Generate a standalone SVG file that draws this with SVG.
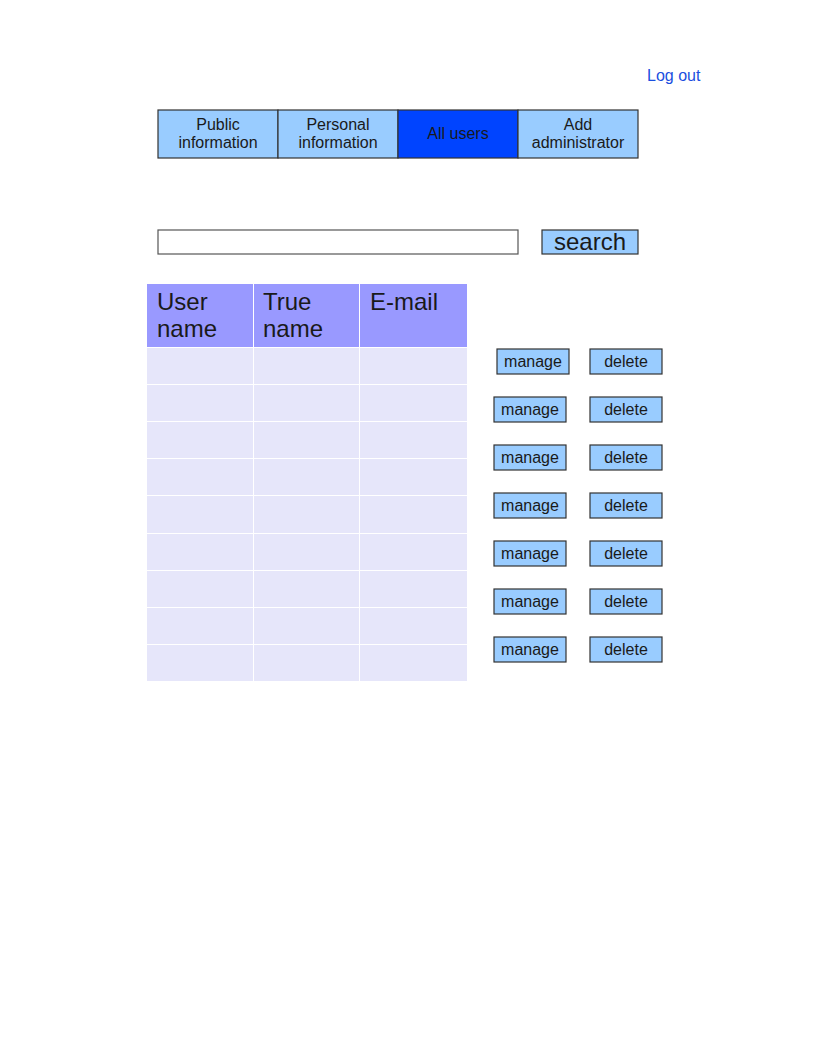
<svg xmlns="http://www.w3.org/2000/svg" width="816" height="1056" viewBox="0 0 816 1056">
<style>
text{font-family:"Liberation Sans",Arial,sans-serif;fill:#1a1a1a}
.tab{fill:#99ccff;stroke:#333;stroke-width:1.2}
.act{fill:#0044ff;stroke:#333;stroke-width:1.2}
.tt{font-size:16px;text-anchor:middle}
.btn{fill:#99ccff;stroke:#333;stroke-width:1.2}
.bt{font-size:16px;text-anchor:middle}
.hd{fill:#9999ff}
.cell{fill:#e6e6fa}
.ht{font-size:24px}
</style>
<rect width="816" height="1056" fill="#fff"/>
<g id="logout"><text x="647" y="81" style="font-size:16px;fill:#1a4fe0">Log out</text></g>
<g id="tab-public"><rect class="tab" x="158" y="110" width="120" height="48"/><text class="tt" x="218" y="130">Public</text><text class="tt" x="218" y="148">information</text></g>
<g id="tab-personal"><rect class="tab" x="278" y="110" width="120" height="48"/><text class="tt" x="338" y="130">Personal</text><text class="tt" x="338" y="148">information</text></g>
<g id="tab-all"><rect class="act" x="398" y="110" width="120" height="48"/><text class="tt" x="458" y="139">All users</text></g>
<g id="tab-add"><rect class="tab" x="518" y="110" width="120" height="48"/><text class="tt" x="578" y="130">Add</text><text class="tt" x="578" y="148">administrator</text></g>
<g id="search-input"><rect x="158" y="230" width="360" height="24" fill="#fff" stroke="#555" stroke-width="1.2"/></g>
<g id="search-btn"><rect class="btn" x="542" y="230" width="96" height="24"/><text x="590" y="250" style="font-size:24px;text-anchor:middle">search</text></g>
<g id="table">
<rect class="hd" x="147" y="284" width="106" height="63"/>
<rect class="hd" x="254" y="284" width="105" height="63"/>
<rect class="hd" x="360" y="284" width="107" height="63"/>
<text class="ht" x="157" y="310">User</text><text class="ht" x="157" y="337">name</text>
<text class="ht" x="263" y="310">True</text><text class="ht" x="263" y="337">name</text>
<text class="ht" x="370" y="310">E-mail</text>
<g id="rows">
<rect class="cell" x="147" y="348" width="106" height="36"/><rect class="cell" x="254" y="348" width="105" height="36"/><rect class="cell" x="360" y="348" width="107" height="36"/>
<rect class="cell" x="147" y="385" width="106" height="36"/><rect class="cell" x="254" y="385" width="105" height="36"/><rect class="cell" x="360" y="385" width="107" height="36"/>
<rect class="cell" x="147" y="422" width="106" height="36"/><rect class="cell" x="254" y="422" width="105" height="36"/><rect class="cell" x="360" y="422" width="107" height="36"/>
<rect class="cell" x="147" y="459" width="106" height="36"/><rect class="cell" x="254" y="459" width="105" height="36"/><rect class="cell" x="360" y="459" width="107" height="36"/>
<rect class="cell" x="147" y="496" width="106" height="37"/><rect class="cell" x="254" y="496" width="105" height="37"/><rect class="cell" x="360" y="496" width="107" height="37"/>
<rect class="cell" x="147" y="534" width="106" height="36"/><rect class="cell" x="254" y="534" width="105" height="36"/><rect class="cell" x="360" y="534" width="107" height="36"/>
<rect class="cell" x="147" y="571" width="106" height="36"/><rect class="cell" x="254" y="571" width="105" height="36"/><rect class="cell" x="360" y="571" width="107" height="36"/>
<rect class="cell" x="147" y="608" width="106" height="36"/><rect class="cell" x="254" y="608" width="105" height="36"/><rect class="cell" x="360" y="608" width="107" height="36"/>
<rect class="cell" x="147" y="645" width="106" height="36"/><rect class="cell" x="254" y="645" width="105" height="36"/><rect class="cell" x="360" y="645" width="107" height="36"/>
</g>
</g>
<g id="manage-1"><rect class="btn" x="497" y="349" width="72" height="25"/><text class="bt" x="533" y="367">manage</text></g>
<g id="delete-1"><rect class="btn" x="590" y="349" width="72" height="25"/><text class="bt" x="626" y="367">delete</text></g>
<g id="manage-2"><rect class="btn" x="494" y="397" width="72" height="25"/><text class="bt" x="530" y="415">manage</text></g>
<g id="delete-2"><rect class="btn" x="590" y="397" width="72" height="25"/><text class="bt" x="626" y="415">delete</text></g>
<g id="manage-3"><rect class="btn" x="494" y="445" width="72" height="25"/><text class="bt" x="530" y="463">manage</text></g>
<g id="delete-3"><rect class="btn" x="590" y="445" width="72" height="25"/><text class="bt" x="626" y="463">delete</text></g>
<g id="manage-4"><rect class="btn" x="494" y="493" width="72" height="25"/><text class="bt" x="530" y="511">manage</text></g>
<g id="delete-4"><rect class="btn" x="590" y="493" width="72" height="25"/><text class="bt" x="626" y="511">delete</text></g>
<g id="manage-5"><rect class="btn" x="494" y="541" width="72" height="25"/><text class="bt" x="530" y="559">manage</text></g>
<g id="delete-5"><rect class="btn" x="590" y="541" width="72" height="25"/><text class="bt" x="626" y="559">delete</text></g>
<g id="manage-6"><rect class="btn" x="494" y="589" width="72" height="25"/><text class="bt" x="530" y="607">manage</text></g>
<g id="delete-6"><rect class="btn" x="590" y="589" width="72" height="25"/><text class="bt" x="626" y="607">delete</text></g>
<g id="manage-7"><rect class="btn" x="494" y="637" width="72" height="25"/><text class="bt" x="530" y="655">manage</text></g>
<g id="delete-7"><rect class="btn" x="590" y="637" width="72" height="25"/><text class="bt" x="626" y="655">delete</text></g>
<g id="connectors"/>
</svg>
